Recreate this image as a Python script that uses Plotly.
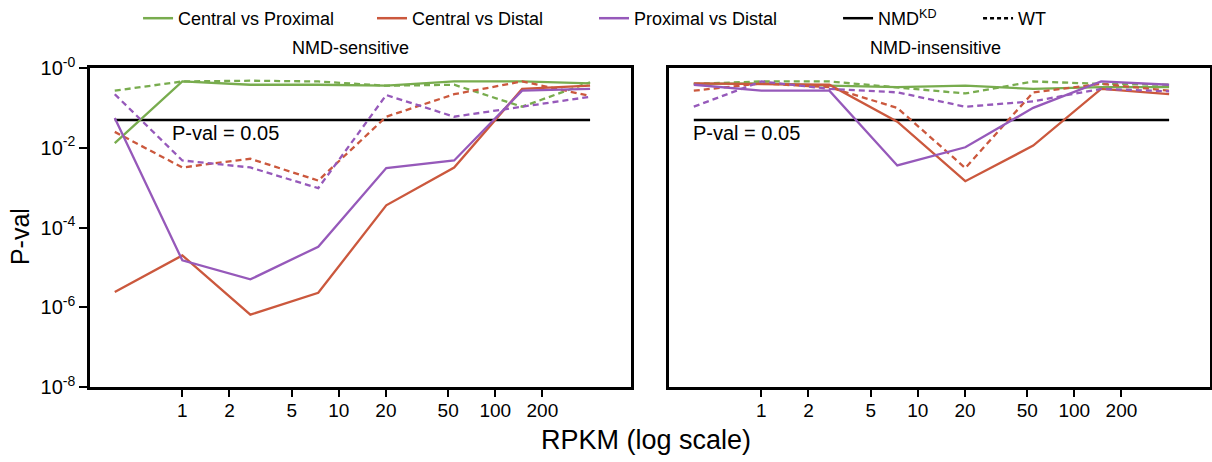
import plotly.graph_objects as go

# ---- data ----
rpkm = [0.37, 1.0, 2.72, 7.39, 20.1, 54.6, 148.4, 403.4]
x_tick_vals = [1, 2, 5, 10, 20, 50, 100, 200]
x_tick_text = ["1", "2", "5", "10", "20", "50", "100", "200"]
y_tick_vals = [1, 1e-2, 1e-4, 1e-6, 1e-8]
y_tick_text = ["10<sup>-0</sup>", "10<sup>-2</sup>", "10<sup>-4</sup>", "10<sup>-6</sup>", "10<sup>-8</sup>"]
pval_threshold = 0.05

# NMD-sensitive
sens_cp_kd = [0.013, 0.46, 0.38, 0.38, 0.36, 0.46, 0.46, 0.41]
sens_cp_wt = [0.27, 0.46, 0.48, 0.46, 0.36, 0.38, 0.107, 0.44]
sens_cd_kd = [2.4e-6, 2.0e-5, 6.5e-7, 2.3e-6, 3.6e-4, 3.2e-3, 0.30, 0.36]
sens_cd_wt = [0.025, 3.2e-3, 5.3e-3, 1.5e-3, 0.06, 0.22, 0.46, 0.20]
sens_pd_kd = [0.056, 1.5e-5, 5.0e-6, 3.3e-5, 3.1e-3, 4.8e-3, 0.27, 0.30]
sens_pd_wt = [0.22, 4.8e-3, 3.2e-3, 9.7e-4, 0.21, 0.06, 0.107, 0.19]

# NMD-insensitive
ins_cp_kd = [0.40, 0.41, 0.36, 0.33, 0.36, 0.30, 0.33, 0.33]
ins_cp_wt = [0.40, 0.46, 0.46, 0.33, 0.23, 0.46, 0.40, 0.38]
ins_cd_kd = [0.41, 0.40, 0.38, 0.045, 1.45e-3, 0.0113, 0.30, 0.22]
ins_cd_wt = [0.27, 0.41, 0.33, 0.10, 3.1e-3, 0.245, 0.40, 0.27]
ins_pd_kd = [0.38, 0.27, 0.27, 3.6e-3, 0.0103, 0.10, 0.46, 0.38]
ins_pd_wt = [0.107, 0.46, 0.30, 0.245, 0.107, 0.146, 0.30, 0.26]

comparisons = ["Central vs Proximal", "Central vs Distal", "Proximal vs Distal"]
colors = ["#78AC4E", "#CB583D", "#9659BA"]

FONT = "Liberation Sans, Arial, Helvetica, sans-serif"
DASH = "6px,4px"

fig = go.Figure()

panels = [
    ("x", "y", [(sens_cp_kd, sens_cp_wt), (sens_cd_kd, sens_cd_wt), (sens_pd_kd, sens_pd_wt)]),
    ("x2", "y2", [(ins_cp_kd, ins_cp_wt), (ins_cd_kd, ins_cd_wt), (ins_pd_kd, ins_pd_wt)]),
]

for xa, ya, series in panels:
    fig.add_trace(go.Scatter(x=[rpkm[0], rpkm[-1]], y=[pval_threshold, pval_threshold],
                             mode="lines", line=dict(color="black", width=2.5),
                             xaxis=xa, yaxis=ya, showlegend=False, hoverinfo="skip"))
    for (kd, wt), col in zip(series, colors):
        fig.add_trace(go.Scatter(x=rpkm, y=wt, mode="lines",
                                 line=dict(color=col, width=2.3, dash=DASH),
                                 xaxis=xa, yaxis=ya, showlegend=False))
        fig.add_trace(go.Scatter(x=rpkm, y=kd, mode="lines",
                                 line=dict(color=col, width=2.3),
                                 xaxis=xa, yaxis=ya, showlegend=False))

# legend entries, each in its own legend box for placement
legend_names = comparisons + ["NMD<sup>KD</sup>", "WT"]
legend_colors = colors + ["black", "black"]
legend_dashes = ["solid", "solid", "solid", "solid", "4px,3px"]
legend_x = [0.0429, 0.2518, 0.4500, 0.6679, 0.7929]
legend_ids = ["legend", "legend2", "legend3", "legend4", "legend5"]

for name, col, dsh, lid in zip(legend_names, legend_colors, legend_dashes, legend_ids):
    fig.add_trace(go.Scatter(x=[None], y=[None], mode="lines", name=name, legend=lid,
                             line=dict(color=col, width=2.5, dash=dsh)))

x_common = dict(type="log", range=[-0.59, 2.867], showline=True, mirror=True,
                linecolor="black", linewidth=2.5, ticks="outside", ticklen=7, tickwidth=2,
                tickcolor="black", tickvals=x_tick_vals, ticktext=x_tick_text,
                showgrid=False, zeroline=False, automargin=False, ticklabelstandoff=-3,
                tickfont=dict(size=19, color="black"))
y_common = dict(type="log", range=[-8, 0], showline=True, mirror=True, automargin=False,
                linecolor="black", linewidth=2.5, showgrid=False, zeroline=False)

layout_legends = {}
for lid, lx in zip(legend_ids, legend_x):
    layout_legends[lid] = dict(orientation="h", x=lx, xanchor="left", y=1.0, yanchor="top",
                               yref="container", font=dict(size=18, color="black"),
                               itemwidth=30, bgcolor="rgba(0,0,0,0)")

fig.update_layout(
    width=1212, height=462,
    margin=dict(l=90, r=2, t=68, b=75, autoexpand=False),
    paper_bgcolor="white", plot_bgcolor="white",
    font=dict(family=FONT, color="black"),
    xaxis=dict(domain=[0, 0.483], anchor="y", **x_common),
    xaxis2=dict(domain=[0.517, 1], anchor="y2", **x_common),
    yaxis=dict(anchor="x", ticks="outside", ticklen=8, tickwidth=2, tickcolor="black",
               tickvals=y_tick_vals, ticktext=y_tick_text,
               tickfont=dict(size=20, color="black"), **y_common),
    yaxis2=dict(anchor="x2", ticks="", showticklabels=False, **y_common),
    showlegend=True,
    annotations=[
        dict(text="NMD-sensitive", x=0.233, y=1.0, xref="paper", yref="paper",
             xanchor="center", yanchor="bottom", yshift=8, showarrow=False,
             font=dict(size=18)),
        dict(text="NMD-insensitive", x=0.755, y=1.0, xref="paper", yref="paper",
             xanchor="center", yanchor="bottom", yshift=8, showarrow=False,
             font=dict(size=18)),
        dict(text="P-val = 0.05", x=-0.08, y=-1.30, xref="x", yref="y",
             xanchor="left", yanchor="top", showarrow=False,
             font=dict(size=20)),
        dict(text="P-val = 0.05", x=-0.45, y=-1.30, xref="x2", yref="y2",
             xanchor="left", yanchor="top", showarrow=False,
             font=dict(size=20)),
        dict(text="RPKM (log scale)", x=0.496, y=-0.166, xref="paper", yref="paper",
             xanchor="center", yanchor="middle", showarrow=False, font=dict(size=27)),
        dict(text="P-val", x=-0.0625, y=0.47, xref="paper", yref="paper",
             xanchor="center", yanchor="middle", textangle=-90, showarrow=False,
             font=dict(size=25)),
    ],
    **layout_legends,
)

fig.write_html("out.html", config={"displayModeBar": False},
               post_script="document.body.style.margin='0';")
